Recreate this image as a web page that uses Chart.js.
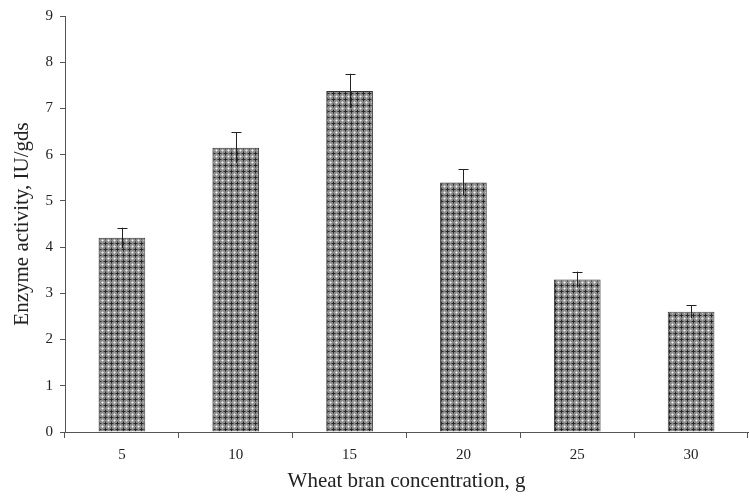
<!DOCTYPE html>
<html>
<head>
<meta charset="utf-8">
<script src="https://cdn.jsdelivr.net/npm/chart.js@4/dist/chart.umd.min.js"></script>
<style>
  html, body { margin: 0; padding: 0; background: #fff; }
  #wrap { width: 749px; height: 496px; }
</style>
</head>
<body>
<div id="wrap"><canvas id="c" width="749" height="496"></canvas></div>
<script>
// Wheat bran concentration (g) vs enzyme activity (IU/gds)
const categories = ['5', '10', '15', '20', '25', '30'];
const activity = [4.2, 6.15, 7.38, 5.4, 3.3, 2.6];
const errors = [0.22, 0.33, 0.37, 0.28, 0.17, 0.14];
const yTicks = [0, 1, 2, 3, 4, 5, 6, 7, 8, 9];

// Cross-hatched fill for the bars: dark crosses, light dots on mid grey
function makePattern() {
  const p = document.createElement('canvas');
  p.width = 6; p.height = 6;
  const g = p.getContext('2d');
  g.fillStyle = '#8e8e8e';
  g.fillRect(0, 0, 6, 6);
  g.fillStyle = '#262626';
  g.fillRect(3, 2, 1, 3);
  g.fillRect(2, 3, 3, 1);
  g.fillStyle = '#5a5a5a';
  g.fillRect(3, 1, 1, 1);
  g.fillRect(3, 5, 1, 1);
  g.fillRect(1, 3, 1, 1);
  g.fillRect(5, 3, 1, 1);
  g.fillStyle = '#f2f2f2';
  g.fillRect(0, 0, 1, 1);
  g.fillStyle = '#c4c4c4';
  g.fillRect(1, 0, 1, 1);
  g.fillRect(0, 1, 1, 1);
  g.fillRect(5, 0, 1, 1);
  g.fillRect(0, 5, 1, 1);
  return document.getElementById('c').getContext('2d').createPattern(p, 'repeat');
}

const errorBars = {
  id: 'errorBars',
  afterDatasetsDraw(chart) {
    const ctx = chart.ctx;
    const y = chart.scales.y;
    const meta = chart.getDatasetMeta(0);
    ctx.save();
    ctx.strokeStyle = '#222';
    ctx.lineWidth = 1;
    meta.data.forEach((bar, i) => {
      const x = Math.round(bar.x) + 0.5;
      const top = y.getPixelForValue(activity[i] + errors[i]);
      const bot = y.getPixelForValue(activity[i] - errors[i]);
      ctx.beginPath();
      ctx.moveTo(x, bot);
      ctx.lineTo(x, top);
      ctx.moveTo(x - 5, Math.round(top) + 0.5);
      ctx.lineTo(x + 5, Math.round(top) + 0.5);
      ctx.stroke();
    });
    ctx.restore();
  }
};

const serif = "'Liberation Serif', 'Times New Roman', serif";

new Chart(document.getElementById('c'), {
  type: 'bar',
  data: {
    labels: categories,
    datasets: [{
      data: activity,
      backgroundColor: makePattern(),
      borderColor: '#333',
      borderWidth: 1,
      categoryPercentage: 0.82,
      barPercentage: 0.5
    }]
  },
  options: {
    responsive: false,
    animation: false,
    layout: { padding: { top: 15, right: 1, left: 0, bottom: 2 } },
    plugins: { legend: { display: false }, tooltip: { enabled: false } },
    scales: {
      x: {
        offset: true,
        grid: { offset: true, drawOnChartArea: false, color: '#555', tickLength: 6, tickColor: '#555' },
        border: { color: '#555', width: 1 },
        ticks: { color: '#222', font: { family: serif, size: 15 }, padding: 8 },
        title: { display: true, text: 'Wheat bran concentration, g', color: '#222', font: { family: serif, size: 21 }, padding: { top: 0, bottom: 0 } },
        afterFit(s) { s.height = 62; }
      },
      y: {
        min: 0, max: 9,
        afterBuildTicks(s) { s.ticks = yTicks.map(v => ({ value: v })); },
        grid: { drawOnChartArea: false, color: '#555', tickLength: 5, tickColor: '#555' },
        border: { color: '#555', width: 1 },
        ticks: { color: '#222', font: { family: serif, size: 15 }, padding: 7 },
        title: { display: true, text: 'Enzyme activity, IU/gds', color: '#222', font: { family: serif, size: 21 }, padding: { top: 10, bottom: 0 } },
        afterFit(s) { s.width = 65; }
      }
    }
  },
  plugins: [errorBars]
});
</script>
</body>
</html>
